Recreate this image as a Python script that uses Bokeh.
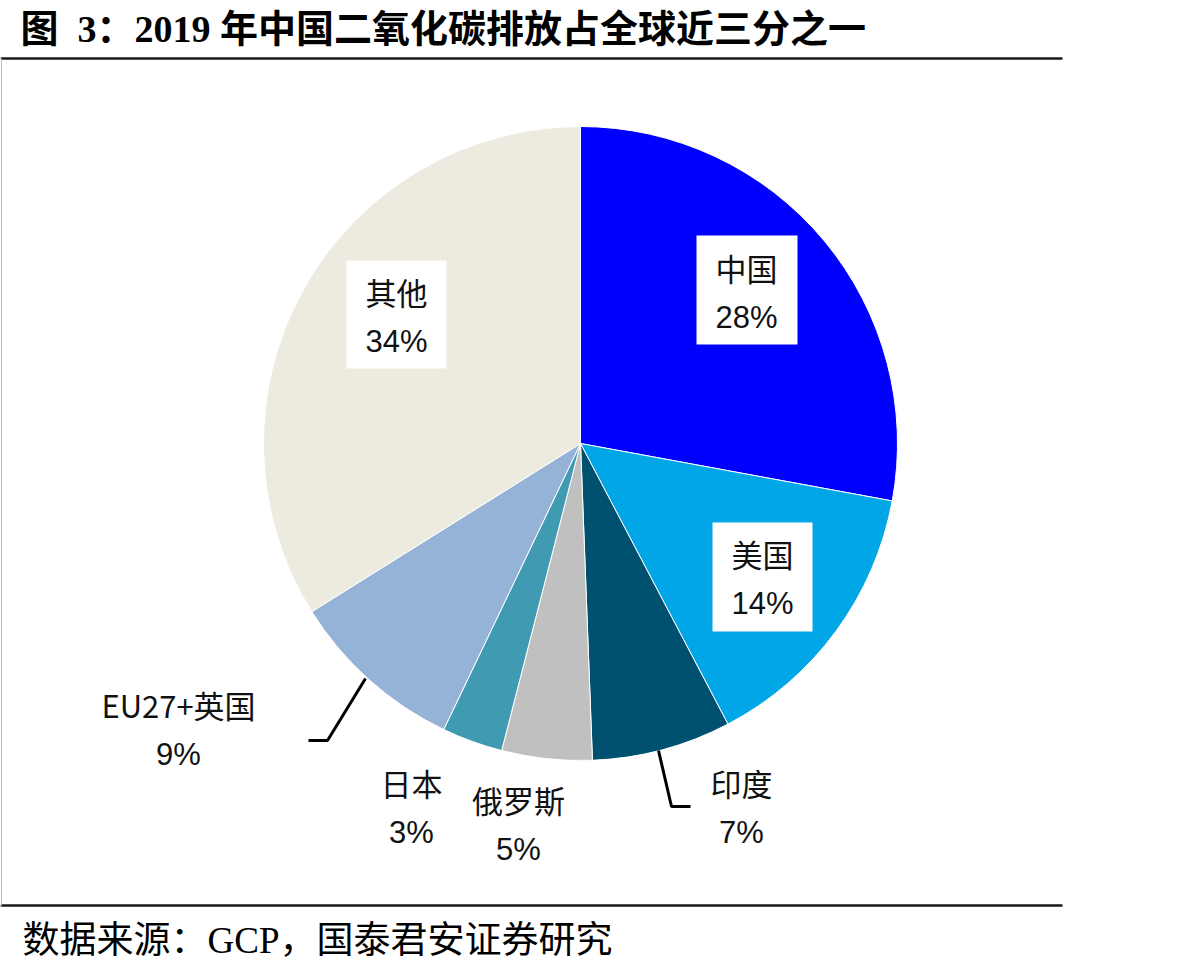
import math
from bokeh.plotting import figure
from bokeh.models import Range1d, ColumnDataSource
from bokeh.core.properties import value
from bokeh.embed import file_html
from bokeh.resources import INLINE

# Share of global CO2 emissions, 2019 (%), clockwise from 12 o'clock
regions = ["中国", "美国", "印度", "俄罗斯", "日本", "EU27+英国", "其他"]
shares = [27.9, 14.4, 7.1, 4.6, 3.1, 9.0, 33.9]
colors = ["#0000FF", "#00A6E6", "#00516F", "#C0C0C0", "#409AB1", "#95B3D7", "#EDEAE0"]

W, H = 1204, 972
CJK = "Noto Sans CJK SC"
NUM = "Liberation Sans Narrow, Arial Narrow, Liberation Sans, Noto Sans CJK SC"
SERIF = "Liberation Serif, Noto Sans CJK SC"


def Y(py):
    # page pixel row -> data y (y axis points up)
    return H - py


p = figure(width=W, height=H, x_range=Range1d(0, W), y_range=Range1d(0, H),
           output_backend="svg", toolbar_location=None, min_border=0,
           background_fill_color="white", border_fill_color="white")
p.axis.visible = False
p.grid.visible = False
p.outline_line_color = None

# pie
cx, cy, r = 580, Y(443), 317
total = sum(shares)
starts, ends, acc = [], [], 0.0
for s in shares:
    starts.append(math.pi / 2 - 2 * math.pi * acc / total)
    acc += s
    ends.append(math.pi / 2 - 2 * math.pi * acc / total)
src = ColumnDataSource(dict(start=starts, end=ends, color=colors))
p.wedge(x=cx, y=cy, radius=r, start_angle="start", end_angle="end",
        direction="clock", fill_color="color", line_color="white",
        line_width=1, source=src)

# labels: (center x, first line y)
label_pos = [
    (746, 267),
    (762, 553),
    (741, 782),
    (518, 799),
    (411, 782),
    (178, 704),
    (396, 291),
]
boxes = {0: (696, 235, 797, 344), 1: (712, 522, 812, 631), 6: (346, 260, 446, 368)}
for i, (x0, y0, x1, y1) in boxes.items():
    p.quad(left=x0, right=x1, top=Y(y0), bottom=Y(y1), fill_color="white", line_color=None)

line_gap = 50
names_x = [lp[0] for lp in label_pos]
names_y = [Y(lp[1]) for lp in label_pos]
pct_y = [Y(lp[1] + line_gap) for lp in label_pos]
pct_txt = [f"{round(s)}%" for s in shares]

p.text(x=names_x, y=names_y, text=regions, text_font=value(CJK),
       text_font_size="31px", text_align="center", text_baseline="middle",
       text_color="#111111")
p.text(x=names_x, y=pct_y, text=pct_txt, text_font=value(NUM),
       text_font_size="31px", text_align="center", text_baseline="middle",
       text_color="#111111")

# leader lines for the small slices
p.line(x=[658, 671, 690], y=[Y(750), Y(806), Y(806)], line_color="black", line_width=3)
p.line(x=[365, 327, 308], y=[Y(678), Y(740), Y(740)], line_color="black", line_width=3)

# frame rules
p.line(x=[0, 1062], y=[Y(58), Y(58)], line_color="#1a1a1a", line_width=2.5)
p.line(x=[0, 1062], y=[Y(905), Y(905)], line_color="#1a1a1a", line_width=2.5)
p.line(x=[1, 1], y=[Y(58), Y(905)], line_color="#bbbbbb", line_width=1)

# title and source note
p.text(x=[20], y=[Y(28)], text=["图\u00a0\u00a03：2019 年中国二氧化碳排放占全球近三分之一"],
       text_font=value(SERIF), text_font_style="bold", text_font_size="38px",
       text_align="left", text_baseline="middle", text_color="black")
p.text(x=[22], y=[Y(940)], text=["数据来源：GCP，国泰君安证券研究"],
       text_font=value(SERIF), text_font_size="37px",
       text_align="left", text_baseline="middle", text_color="black")

open("out.html", "w").write(file_html(p, INLINE))
